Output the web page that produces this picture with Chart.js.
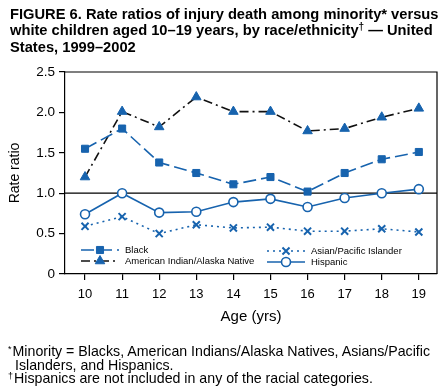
<!DOCTYPE html>
<html>
<head>
<meta charset="utf-8">
<script src="https://cdn.jsdelivr.net/npm/chart.js@4"></script>
<style>
  html, body { margin: 0; padding: 0; background: #fff; }
  body { width: 446px; height: 386px; position: relative; overflow: hidden; font-family: "Liberation Sans", Arial, sans-serif; }
  #title { position: absolute; left: 10px; top: 6px; font-weight: bold; font-size: 14.7px; line-height: 16.4px; color: #000; white-space: nowrap; }
  #title .sym { font-size: 10px; position: relative; top: -5px; line-height: 0; }
  #notes { position: absolute; left: 8px; top: 345px; font-size: 14.2px; line-height: 13.6px; color: #000; white-space: nowrap; }
  #notes div { padding-left: 7px; text-indent: -7px; }
  #notes .sym { font-size: 9px; position: relative; top: -4px; line-height: 0; margin-right: 1px; }
  #wrap { position: absolute; left: 0; top: 0; width: 446px; height: 386px; }
</style>
</head>
<body>
<div id="wrap"><canvas id="chart" width="446" height="386"></canvas></div>
<div id="title">FIGURE 6. Rate ratios of injury death among minority* versus<br>white children aged 10–19 years, by race/ethnicity<span class="sym">†</span> — United<br>States, 1999–2002</div>
<div id="notes">
  <div><span class="sym">*</span>Minority = Blacks, American Indians/Alaska Natives, Asians/Pacific<br>Islanders, and Hispanics.</div>
  <div><span class="sym">†</span>Hispanics are not included in any of the racial categories.</div>
</div>
<script>
var ages = [10, 11, 12, 13, 14, 15, 16, 17, 18, 19];
var black = [1.55, 1.80, 1.38, 1.25, 1.11, 1.20, 1.02, 1.25, 1.42, 1.51];
var aian = [1.20, 2.01, 1.82, 2.19, 2.01, 2.01, 1.77, 1.80, 1.94, 2.05];
var asianPI = [0.59, 0.71, 0.50, 0.61, 0.57, 0.58, 0.53, 0.53, 0.56, 0.52];
var hispanic = [0.74, 1.00, 0.76, 0.77, 0.89, 0.93, 0.83, 0.94, 1.00, 1.05];
var yTicks = [0, 0.5, 1.0, 1.5, 2.0, 2.5];

var blue = '#1763ae';
var font = '"Liberation Sans", Arial, sans-serif';

function pts(vals) {
  return ages.map(function(a, i) { return { x: a, y: vals[i] }; });
}

var series = [
  { label: 'Black', data: black, color: blue, dash: [13, 5], style: 'rect', radius: 5, fill: blue, bw: 1 },
  { label: 'American Indian/Alaska Native', data: aian, color: '#111', dash: [9, 4, 2, 4], style: 'triangle', radius: 5.5, fill: blue, bw: 1, markerBorder: blue },
  { label: 'Asian/Pacific Islander', data: asianPI, color: blue, dash: [2, 4], style: 'crossRot', radius: 5, fill: blue, bw: 2 },
  { label: 'Hispanic', data: hispanic, color: blue, dash: [], style: 'circle', radius: 4.5, fill: '#fff', bw: 1.6 }
];

// reference line at 1.0, box frame and in-plot legend
var extras = {
  id: 'extras',
  beforeDatasetsDraw: function(chart) {
    var c = chart.ctx, a = chart.chartArea, y1 = chart.scales.y.getPixelForValue(1);
    c.save();
    c.strokeStyle = '#000';
    c.lineWidth = 1.2;
    c.beginPath();
    c.moveTo(a.left, y1); c.lineTo(a.right, y1);
    c.moveTo(a.left, a.top); c.lineTo(a.right, a.top); c.lineTo(a.right, a.bottom);
    c.stroke();
    c.restore();
  },
  afterDraw: function(chart) {
    var c = chart.ctx;
    var pos = [
      { x: 81, y: 250 }, { x: 81, y: 261 },
      { x: 267, y: 251 }, { x: 267, y: 262 }
    ];
    c.save();
    series.forEach(function(s, i) {
      var p = pos[i];
      c.strokeStyle = s.color;
      c.lineWidth = 1.6;
      c.setLineDash(s.dash);
      c.beginPath();
      c.moveTo(p.x, p.y); c.lineTo(p.x + 38, p.y);
      c.stroke();
      c.setLineDash([]);
      c.fillStyle = s.fill;
      c.strokeStyle = s.markerBorder || s.color;
      c.lineWidth = s.bw;
      Chart.helpers.drawPoint(c, { pointStyle: s.style, radius: s.radius, borderWidth: s.bw }, p.x + 19, p.y);
      c.fillStyle = '#000';
      c.font = '9.5px ' + font;
      c.textBaseline = 'middle';
      c.fillText(s.label, p.x + 44, p.y + 0.5);
    });
    c.restore();
  }
};

new Chart(document.getElementById('chart'), {
  type: 'line',
  data: {
    datasets: series.map(function(s) {
      return {
        label: s.label,
        data: pts(s.data),
        borderColor: s.color,
        borderWidth: 1.6,
        borderDash: s.dash,
        pointStyle: s.style,
        pointRadius: s.radius,
        pointBackgroundColor: s.fill,
        pointBorderColor: s.markerBorder || s.color,
        pointBorderWidth: s.bw,
        tension: 0
      };
    })
  },
  options: {
    responsive: false,
    animation: false,
    events: [],
    layout: { padding: { top: 72, right: 9, left: 0, bottom: 0 } },
    plugins: { legend: { display: false }, tooltip: { enabled: false } },
    scales: {
      x: {
        type: 'linear',
        min: 9.46,
        max: 19.49,
        afterFit: function(s) { s.height = 112; },
        afterBuildTicks: function(s) { s.ticks = ages.map(function(v) { return { value: v }; }); },
        ticks: { color: '#000', font: { family: font, size: 13 }, padding: 7, maxRotation: 0,
                 callback: function(v) { return String(v); } },
        grid: { drawOnChartArea: false, drawTicks: true, tickLength: 6, color: '#000', lineWidth: 1.2 },
        border: { display: true, color: '#000', width: 1.2 },
        title: { display: true, text: 'Age (yrs)', color: '#000', font: { family: font, size: 15 }, padding: { top: 0, bottom: 60 } }
      },
      y: {
        min: 0,
        max: 2.5,
        afterFit: function(s) { s.width = 65; },
        afterBuildTicks: function(s) { s.ticks = yTicks.map(function(v) { return { value: v }; }); },
        ticks: { color: '#000', font: { family: font, size: 13.5 }, padding: 4,
                 callback: function(v) { return v === 0 ? '0' : v.toFixed(1); } },
        grid: { drawOnChartArea: false, drawTicks: true, tickLength: 6, color: '#000', lineWidth: 1.2 },
        border: { display: true, color: '#000', width: 1.2 },
        title: { display: true, text: 'Rate ratio', color: '#000', font: { family: font, size: 14 }, padding: { top: 7, bottom: 0 } }
      }
    }
  },
  plugins: [extras]
});
</script>
</body>
</html>
